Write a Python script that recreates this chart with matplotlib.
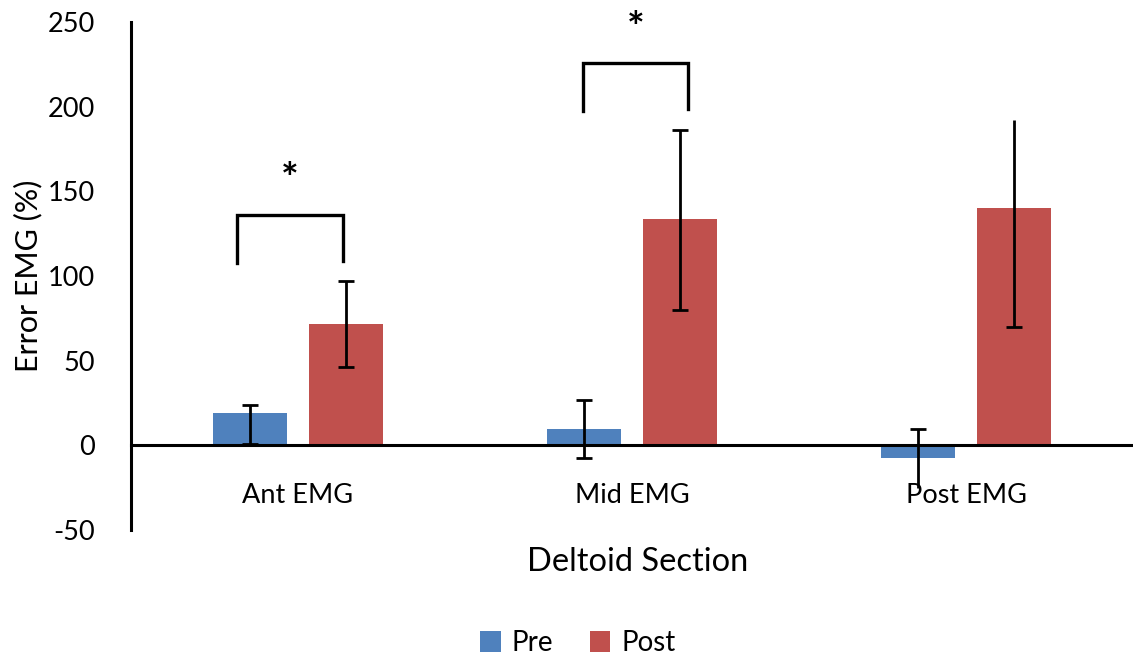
import matplotlib.pyplot as plt
import numpy as np

# datos
sections = ['Ant EMG', 'Mid EMG', 'Post EMG']
pre = [19, 9.5, -7.2]
pre_err_low = [18, 17, 18]
pre_err_high = [5, 17.5, 17]
post = [71.5, 133.5, 140]
post_err_low = [25.5, 53.5, 70]
post_err_high = [25.5, 52.5, 52]
# caps que se ven (inferior, superior)
pre_caps = [(True, True), (True, True), (False, True)]
post_caps = [(True, True), (True, True), (True, False)]

blue = '#4F81BD'
red = '#C0504D'

plt.rcParams['font.family'] = ['Lato', 'DejaVu Sans']
plt.rcParams['axes.unicode_minus'] = False

fig = plt.figure(figsize=(11.33, 6.55), dpi=100)
ax = fig.add_axes([131/1133, 1 - 530/655, 1 - 131/1133, (530 - 22)/655])

x = np.arange(len(sections))
w = 0.22
off = 0.143

ax.bar(x - off, pre, w, color=blue, label='Pre', zorder=2)
ax.bar(x + off, post, w, color=red, label='Post', zorder=2)

def draw_err(xs, ys, lo, hi, caps):
    for xi, yi, l, h, c in zip(xs, ys, lo, hi, caps):
        _, caplines, _ = ax.errorbar(xi, yi, yerr=[[l], [h]], fmt='none', ecolor='black',
                                     elinewidth=2.0, capsize=6, capthick=2.0, zorder=4)
        caplines[0].set_visible(c[0])
        caplines[1].set_visible(c[1])
        for cl in caplines:
            cl.set_clip_on(False)

draw_err(x - off, pre, pre_err_low, pre_err_high, pre_caps)
draw_err(x + off, post, post_err_low, post_err_high, post_caps)

ax.set_xlim(-0.5, 2.5)
ax.set_ylim(-50, 250)
ax.set_yticks([-50, 0, 50, 100, 150, 200, 250])
ax.set_xticks(x)
ax.set_xticklabels(sections)

for s in ['top', 'right']:
    ax.spines[s].set_visible(False)
ax.spines['bottom'].set_position(('data', 0))
ax.spines['bottom'].set_linewidth(2.2)
ax.spines['left'].set_linewidth(2.2)
ax.spines['bottom'].set_zorder(3)
ax.tick_params(axis='y', length=0, labelsize=19.5, pad=26)
ax.tick_params(axis='x', length=0, labelsize=19.5, pad=27)

ax.set_ylabel('Error EMG (%)', fontsize=22, labelpad=4)
fig.text(0.563, 1 - 562/655, 'Deltoid Section', fontsize=23.5, ha='center', va='center')

# corchetes de significancia
def bracket(x0, x1, ytop, yl, yr, ystar):
    ax.plot([x0, x0, x1, x1], [yl, ytop, ytop, yr], color='black', lw=2.4,
            clip_on=False, solid_joinstyle='miter')
    ax.text((x0 + x1) / 2, ystar, '*', fontsize=30, fontweight='bold',
            ha='center', va='center', clip_on=False)

bracket(-0.184, 0.134, 136, 107.5, 109, 156)
bracket(1 - 0.146, 1 + 0.167, 225.8, 197.4, 198.5, 245)

fig.legend(loc='lower center', bbox_to_anchor=(0.51, -0.04), ncol=2, frameon=False,
           fontsize=20, handlelength=0.75, handleheight=0.75, columnspacing=1.3,
           handletextpad=0.4)

plt.savefig('out.png', dpi=100)
